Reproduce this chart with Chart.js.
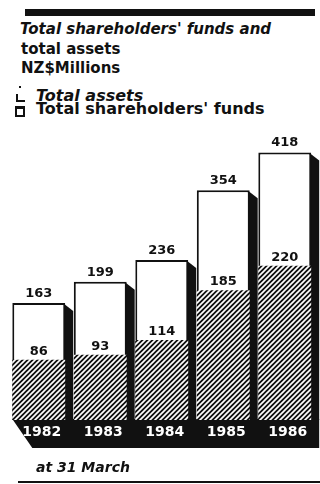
<!DOCTYPE html>
<html>
<head>
<meta charset="utf-8">
<script src="https://cdn.jsdelivr.net/npm/chart.js@4.4.1/dist/chart.umd.min.js"></script>
<style>
  html, body { margin:0; padding:0; background:#fff; }
  #wrap { position:relative; width:320px; height:484px; overflow:hidden; font-family:'DejaVu Sans', sans-serif; color:#111; }
  #wrap canvas { position:absolute; left:0; top:0; }
  .t { position:absolute; white-space:nowrap; font-weight:bold; line-height:1; }
  .rule { position:absolute; background:#111; }
</style>
</head>
<body>
<div id="wrap">
  <div class="rule" style="left:25px;top:9px;width:290px;height:7px;"></div>
  <div class="t" style="left:20px;top:22px;font-size:15px;font-style:italic;">Total shareholders' funds and</div>
  <div class="t" style="left:21px;top:42px;font-size:15px;">total assets</div>
  <div class="t" style="left:21px;top:61px;font-size:15px;">NZ$Millions</div>
  <!-- legend marks -->
  <div class="rule" style="left:19px;top:86px;width:2px;height:2px;"></div>
  <div class="rule" style="left:16px;top:94px;width:2px;height:8px;"></div>
  <div class="rule" style="left:16px;top:100px;width:9px;height:2px;"></div>
  <div style="position:absolute;left:15px;top:106px;width:6px;height:6px;border:2px solid #111;border-top-width:3px;background:#fff;"></div>
  <div class="t" style="left:36px;top:88px;font-size:16px;font-style:italic;">Total assets</div>
  <div class="t" style="left:36px;top:101px;font-size:16px;">Total shareholders' funds</div>
  <canvas id="chart" width="320" height="484"></canvas>
  <div class="t" style="left:36px;top:460px;font-size:14px;font-style:italic;">at 31 March</div>
  <div class="rule" style="left:18px;top:481px;width:302px;height:2px;"></div>
</div>
<script>
// NZ$ millions, at 31 March
const years = ['1982', '1983', '1984', '1985', '1986'];
const totalAssets = [163, 199, 236, 354, 418];
const shareholdersFunds = [86, 93, 114, 185, 220];

const INK = '#111';
const SHADOW = 8;
// the original draws the two series to different scales
const ASSET_MIN = -35, ASSET_MAX = 473;
const FUNDS_MAX = 428;

// diagonal hatching for the funds part
const hatch = (() => {
  const c = document.createElement('canvas');
  c.width = 5; c.height = 5;
  const g = c.getContext('2d');
  g.fillStyle = INK;
  g.fillRect(0, 0, 5, 5);
  g.strokeStyle = '#fff';
  g.lineWidth = 1.7;
  g.beginPath();
  g.moveTo(0, 5); g.lineTo(5, 0);
  g.moveTo(-1, 1); g.lineTo(1, -1);
  g.moveTo(4, 6); g.lineTo(6, 4);
  g.stroke();
  return g.createPattern(c, 'repeat');
})();

const decor = {
  id: 'decor',
  beforeDraw(chart) {
    const { ctx, chartArea } = chart;
    const bars = chart.getDatasetMeta(1).data;
    if (!bars.length) return;
    const bottom = chartArea.bottom;
    const first = bars[0], last = bars[bars.length - 1];
    const l = first.x - first.width / 2;
    const r = last.x + last.width / 2 + SHADOW;
    ctx.save();
    ctx.fillStyle = INK;
    // base band under the bars
    ctx.beginPath();
    ctx.moveTo(l, bottom - 1);
    ctx.lineTo(r, bottom - 1);
    ctx.lineTo(r, bottom + 28);
    ctx.lineTo(l + 20, bottom + 28);
    ctx.closePath();
    ctx.fill();
    // drop shadow on the right of each bar
    bars.forEach(b => {
      const rx = b.x + b.width / 2;
      ctx.beginPath();
      ctx.moveTo(rx - 1, b.y + 1);
      ctx.lineTo(rx + SHADOW, b.y + 8);
      ctx.lineTo(rx + SHADOW, bottom);
      ctx.lineTo(rx - 1, bottom);
      ctx.closePath();
      ctx.fill();
    });
    ctx.restore();
  },
  afterDatasetsDraw(chart) {
    const { ctx } = chart;
    ctx.save();
    ctx.fillStyle = INK;
    ctx.font = 'bold 13px "DejaVu Sans"';
    ctx.textAlign = 'center';
    ctx.textBaseline = 'alphabetic';
    chart.getDatasetMeta(1).data.forEach((b, i) => {
      ctx.fillText(String(totalAssets[i]), b.x, b.y - 6);
    });
    chart.getDatasetMeta(0).data.forEach((b, i) => {
      ctx.fillText(String(shareholdersFunds[i]), b.x, b.y - 5);
    });
    ctx.restore();
  }
};

new Chart(document.getElementById('chart'), {
  type: 'bar',
  data: {
    labels: years,
    datasets: [{
      label: "Total shareholders' funds",
      data: shareholdersFunds,
      yAxisID: 'yF',
      order: 0,
      grouped: false,
      backgroundColor: hatch,
      borderWidth: 0
    }, {
      label: 'Total assets',
      data: totalAssets,
      yAxisID: 'yA',
      order: 1,
      grouped: false,
      base: ASSET_MIN,
      backgroundColor: '#fff',
      borderColor: INK,
      borderWidth: 2
    }]
  },
  options: {
    responsive: false,
    animation: false,
    events: [],
    layout: { padding: { top: 120, left: 8, right: 4.5, bottom: 34 } },
    datasets: { bar: { categoryPercentage: 1, barPercentage: 0.86 } },
    plugins: { legend: { display: false }, tooltip: { enabled: false }, title: { display: false } },
    scales: {
      x: {
        grid: { display: false, drawTicks: false },
        border: { display: false },
        ticks: {
          color: '#fff',
          padding: 4,
          labelOffset: 3,
          font: { family: 'DejaVu Sans', weight: 'bold', size: 14 }
        },
        afterFit(s) { s.height = 30; }
      },
      yA: { display: false, min: ASSET_MIN, max: ASSET_MAX },
      yF: { display: false, min: 0, max: FUNDS_MAX }
    }
  },
  plugins: [decor]
});
</script>
</body>
</html>
